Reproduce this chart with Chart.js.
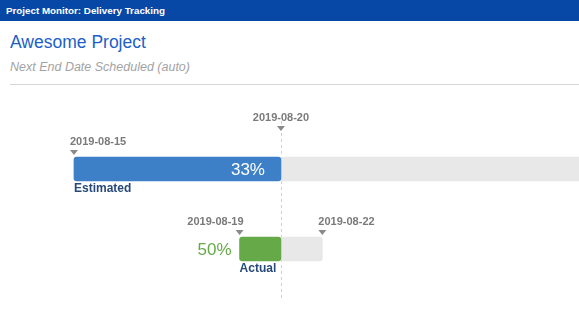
<!DOCTYPE html>
<html>
<head>
<meta charset="utf-8">
<script src="https://cdn.jsdelivr.net/npm/chart.js@4/dist/chart.umd.min.js"></script>
<style>
  html, body { margin: 0; padding: 0; background: #fff; width: 579px; height: 330px; overflow: hidden; font-family: "Liberation Sans", Arial, sans-serif; }
  .topbar { height: 21px; background: #0747a6; color: #fff; font-weight: bold; font-size: 9.8px; line-height: 21px; padding-left: 6px; }
  .title { position: absolute; left: 10px; top: 32px; font-size: 17.5px; color: #205fc8; }
  .sub { position: absolute; left: 10px; top: 60px; font-size: 12.5px; font-style: italic; color: #a3a3a3; }
  .rule { position: absolute; left: 10px; right: 0; top: 84px; border-top: 1px solid #d6d6d6; }
  .wrap { position: absolute; left: 0; top: 90px; width: 579px; height: 240px; }
</style>
</head>
<body>
<div class="topbar">Project Monitor: Delivery Tracking</div>
<div class="title">Awesome Project</div>
<div class="sub">Next End Date Scheduled (auto)</div>
<div class="rule"></div>
<div class="wrap"><canvas id="chart"></canvas></div>
<script>
// rows of the tracker
const categories = ['Estimated', 'Actual'];
// bar positions in days counted from 2019-08-15
const doneRange = [[0, 5], [4, 5]];
const remainingRange = [[5, 15], [5, 6]];
const progressPct = [33, 50];
const todayDay = 5;
// date markers: label, day, row, text alignment
const markerLabels = ['2019-08-15', '2019-08-19', '2019-08-22'];
const markerDays = [0, 4, 6];
const markerRows = [0, 1, 1];
const markerAlign = ['left', 'right', 'left'];
const todayLabel = '2019-08-20';

const doneColors = ['#3d80c8', '#66a948'];

const trackerPlugin = {
    id: 'tracker',
    beforeDatasetsDraw(chart) {
        const ctx = chart.ctx;
        const x = chart.scales.x;
        const area = chart.chartArea;
        const tx = Math.round(x.getPixelForValue(todayDay)) + 0.5;
        ctx.save();
        ctx.strokeStyle = '#cfcfcf';
        ctx.lineWidth = 1;
        ctx.setLineDash([3, 3]);
        ctx.beginPath();
        ctx.moveTo(tx, area.top - 8);
        ctx.lineTo(tx, area.bottom + 12);
        ctx.stroke();
        ctx.restore();
    },
    afterDatasetsDraw(chart) {
        const ctx = chart.ctx;
        const x = chart.scales.x;
        const y = chart.scales.y;
        ctx.save();

        function marker(label, px, labelY, align) {
            ctx.fillStyle = '#7a7a7a';
            ctx.font = 'bold 11px "Liberation Sans", Arial, sans-serif';
            ctx.textAlign = align;
            ctx.textBaseline = 'alphabetic';
            let lx = px;
            if (align === 'left') lx = px - 4;
            if (align === 'right') lx = px + 4;
            ctx.fillText(label, lx, labelY);
            ctx.fillStyle = '#8a8a8a';
            ctx.beginPath();
            ctx.moveTo(px - 4, labelY + 5);
            ctx.lineTo(px + 4, labelY + 5);
            ctx.lineTo(px, labelY + 10);
            ctx.closePath();
            ctx.fill();
        }

        // today marker
        marker(todayLabel, x.getPixelForValue(todayDay), y.getPixelForValue(0) - 48, 'center');

        markerLabels.forEach((lab, i) => {
            const cy = y.getPixelForValue(markerRows[i]);
            marker(lab, x.getPixelForValue(markerDays[i]), cy - 24, markerAlign[i]);
        });

        categories.forEach((cat, i) => {
            const cy = y.getPixelForValue(i);
            const start = x.getPixelForValue(doneRange[i][0]);
            const end = x.getPixelForValue(doneRange[i][1]);
            ctx.font = 'bold 12px "Liberation Sans", Arial, sans-serif';
            ctx.fillStyle = '#274a78';
            ctx.textAlign = 'left';
            ctx.textBaseline = 'alphabetic';
            ctx.fillText(cat, start, cy + 23);

            ctx.font = '17px "Liberation Sans", Arial, sans-serif';
            ctx.textBaseline = 'middle';
            ctx.textAlign = 'right';
            if (i === 0) {
                ctx.fillStyle = '#ffffff';
                ctx.fillText(progressPct[i] + '%', end - 16, cy + 1);
            } else {
                ctx.fillStyle = doneColors[i];
                ctx.fillText(progressPct[i] + '%', start - 8, cy + 1);
            }
        });
        ctx.restore();
    }
};

new Chart(document.getElementById('chart'), {
    type: 'bar',
    data: {
        labels: categories,
        datasets: [
            {
                data: remainingRange,
                backgroundColor: '#e8e8e8',
                borderRadius: 3,
                borderSkipped: false,
                barThickness: 24,
                grouped: false,
                order: 2
            },
            {
                data: doneRange,
                backgroundColor: doneColors,
                borderRadius: 3,
                borderSkipped: false,
                barThickness: 24,
                grouped: false,
                order: 1
            }
        ]
    },
    options: {
        indexAxis: 'y',
        responsive: true,
        maintainAspectRatio: false,
        animation: false,
        layout: { padding: { top: 39, bottom: 41, left: 0, right: 0 } },
        plugins: {
            legend: { display: false },
            tooltip: { enabled: false }
        },
        scales: {
            x: {
                type: 'linear',
                min: -1.787,
                max: 12.2,
                display: false
            },
            y: {
                display: false
            }
        }
    },
    plugins: [trackerPlugin]
});
</script>
</body>
</html>
